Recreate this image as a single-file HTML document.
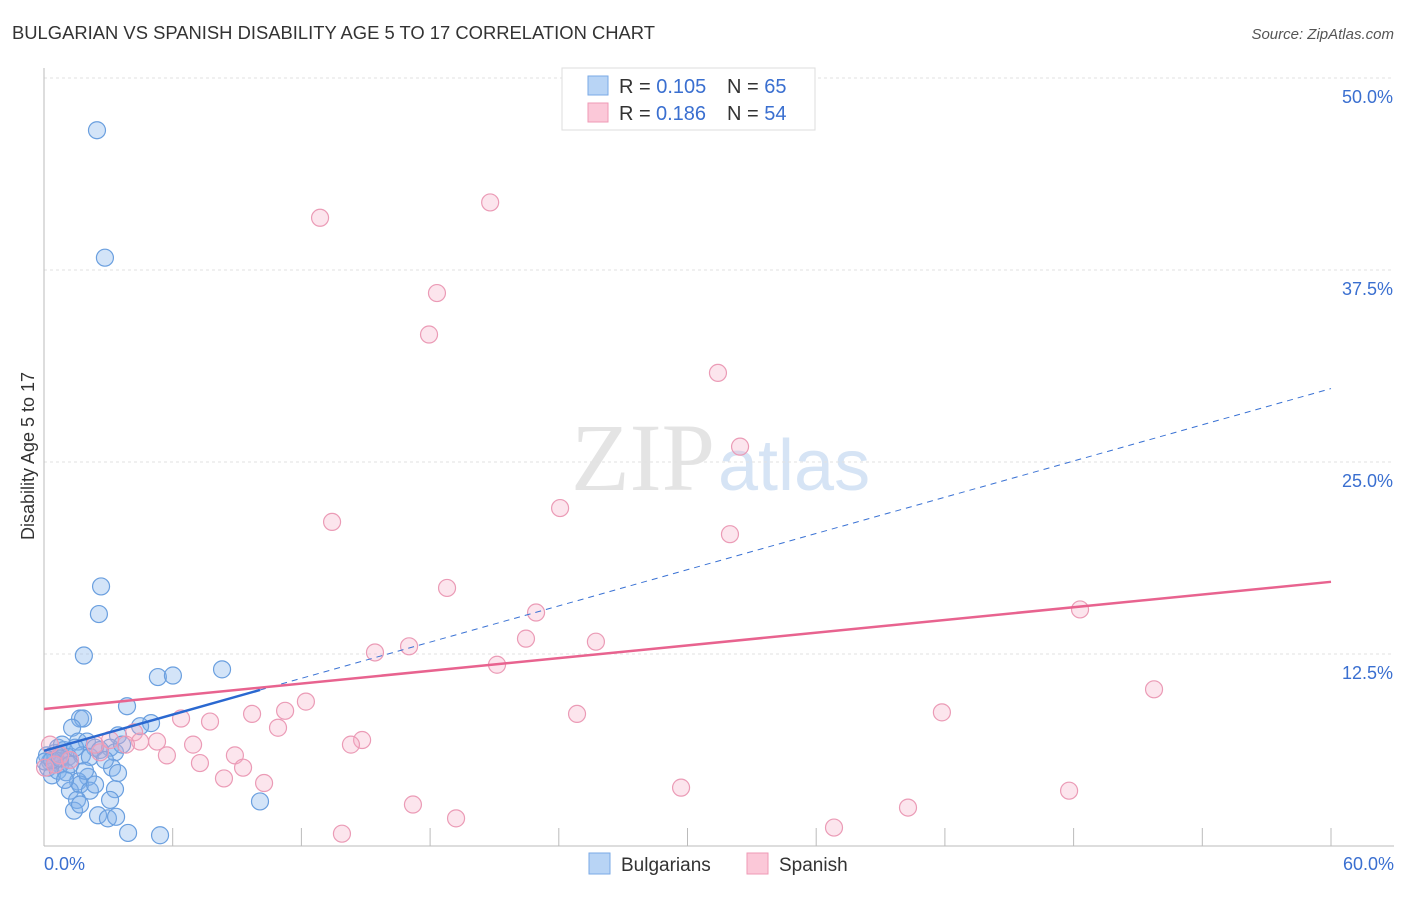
<!DOCTYPE html>
<html><head><meta charset="utf-8"><style>
body{margin:0;background:#fff;font-family:"Liberation Sans",sans-serif;}
</style></head><body>
<svg id="chart" width="1406" height="892" xmlns="http://www.w3.org/2000/svg">
<text x="12" y="39" font-size="18" fill="#333" textLength="643" lengthAdjust="spacingAndGlyphs">BULGARIAN VS SPANISH DISABILITY AGE 5 TO 17 CORRELATION CHART</text>
<text x="1394" y="39" font-size="15" fill="#555" font-style="italic" text-anchor="end">Source: ZipAtlas.com</text>
<text x="715" y="490" font-size="96" fill="#e4e4e4" text-anchor="end" font-family="Liberation Serif,serif">ZIP</text>
<text x="718" y="490" font-size="72" fill="#d6e4f5">atlas</text>
<g id="grid"></g>
<g id="axes"></g>
<g id="pts"></g>
<g id="trends"></g>
<text transform="translate(34,456) rotate(-90)" font-size="18" fill="#333" text-anchor="middle">Disability Age 5 to 17</text>
<text x="44" y="870" font-size="18" fill="#3a6fd0">0.0%</text>
<text x="1394" y="870" font-size="18" fill="#3a6fd0" text-anchor="end">60.0%</text>
<g>
<rect x="562" y="68" width="253" height="62" fill="#fff" stroke="#ddd"/>
<rect x="588" y="76" width="20" height="19" fill="#b8d4f5" stroke="#7aaae6"/>
<rect x="588" y="103" width="20" height="19" fill="#fbc8d8" stroke="#ef9ab6"/>
<text x="619" y="93" font-size="20" fill="#333">R = <tspan fill="#3a6fd0">0.105</tspan><tspan x="727">N = </tspan><tspan fill="#3a6fd0">65</tspan></text>
<text x="619" y="120" font-size="20" fill="#333">R = <tspan x="656" fill="#3a6fd0">0.186</tspan><tspan x="727">N = </tspan><tspan fill="#3a6fd0">54</tspan></text>
</g>
<g>
<rect x="589" y="853" width="21" height="21" fill="#b8d4f5" stroke="#7aaae6"/>
<text x="621" y="871" font-size="19" fill="#333">Bulgarians</text>
<rect x="747" y="853" width="21" height="21" fill="#fbc8d8" stroke="#ef9ab6"/>
<text x="779" y="871" font-size="19" fill="#333">Spanish</text>
</g>
</svg>
<script>
const yTicks=[12.5,25,37.5,50];
const yTickLabels=["12.5%","25.0%","37.5%","50.0%"];
const xTicks=[6,12,18,24,30,36,42,48,54,60];
const bulgX=[2.47,2.84,2.66,2.56,1.86,5.31,6.01,8.30,3.87,1.68,1.82,4.99,4.48,3.45,1.31,1.59,2.00,0.65,0.93,2.38,3.08,1.12,0.51,0.28,0.75,1.21,1.77,3.31,3.17,0.19,0.37,0.65,1.03,2.05,1.59,3.45,1.21,1.68,2.14,3.31,1.54,1.40,1.68,2.52,2.98,3.36,3.92,5.41,10.07,0.51,0.84,0.14,1.45,2.14,2.61,0.98,2.84,0.05,0.37,0.75,1.21,1.91,2.38,3.08,3.64];
const bulgY=[46.6,38.3,16.9,15.1,12.4,11.0,11.1,11.5,9.1,8.3,8.3,8.0,7.8,7.2,7.7,6.8,6.8,6.4,6.25,6.4,6.4,5.8,5.6,5.5,5.3,5.6,5.9,6.1,5.1,5.1,4.6,4.9,4.8,4.5,4.2,4.75,3.6,4.0,3.6,3.7,3.0,2.3,2.7,2.0,1.8,1.9,0.85,0.7,2.9,6.05,6.6,5.9,6.4,5.8,6.25,4.3,5.6,5.5,5.6,5.7,5.3,4.9,4.0,3.0,6.6];
const spanX=[20.8,12.87,18.32,17.95,31.42,32.45,13.43,24.06,31.98,18.79,22.94,48.3,17.02,22.47,25.73,15.43,21.12,51.75,12.21,11.24,9.70,6.39,7.74,24.85,41.86,10.91,4.20,4.48,5.27,14.83,14.31,6.95,3.82,8.90,5.73,7.27,9.28,8.39,10.26,29.70,47.79,17.20,40.28,19.21,13.89,36.83,0.28,0.75,2.61,1.21,2.38,3.08,0.05,0.51];
const spanY=[41.9,40.9,36.0,33.3,30.8,26.0,21.1,22.0,20.3,16.8,15.2,15.4,13.0,13.5,13.3,12.6,11.8,10.2,9.4,8.8,8.6,8.3,8.1,8.6,8.7,7.7,7.4,6.8,6.8,6.9,6.6,6.6,6.6,5.9,5.9,5.4,5.1,4.4,4.1,3.8,3.6,2.7,2.5,1.8,0.8,1.2,6.6,5.9,6.1,5.6,6.6,6.9,5.1,5.3];
const bulgTrend=[6.2,0.393]; // intercept, slope
const spanTrend=[8.92,0.138];
const X=v=>44+v*21.45, Y=v=>846-v*15.36;
const NS="http://www.w3.org/2000/svg";
function mk(tag,attrs,parent){const e=document.createElementNS(NS,tag);for(const k in attrs)e.setAttribute(k,attrs[k]);document.getElementById(parent).appendChild(e);return e;}
yTicks.forEach((t,i)=>{
 const l=mk('line',{x1:44,x2:1394,y1:Y(t),y2:Y(t),stroke:'#e2e2e2','stroke-dasharray':'3,3'},'grid');
 
 
 const tx=mk('text',{x:1393,y:Y(t)+25,'font-size':18,fill:'#3a6fd0','text-anchor':'end'},'grid');
 tx.textContent=yTickLabels[i];
 
 
});
const ay=mk('line',{x1:44,x2:44,y1:68,y2:846,stroke:'#bbb'},'axes');


const ax=mk('line',{x1:44,x2:1394,y1:846,y2:846,stroke:'#bbb'},'axes');


xTicks.forEach(t=>{
 const l=mk('line',{x1:X(t),x2:X(t),y1:828,y2:846,stroke:'#bbb'},'axes');
 
 
});
bulgX.forEach((v,i)=>{
 const c=mk('circle',{cx:X(v),cy:Y(bulgY[i]),r:8.5,fill:'rgba(130,178,235,0.35)',stroke:'#6a9fdf','stroke-width':1.2},'pts');
 
 
});
spanX.forEach((v,i)=>{
 const c=mk('circle',{cx:X(v),cy:Y(spanY[i]),r:8.5,fill:'rgba(245,170,195,0.3)',stroke:'#eb9bb6','stroke-width':1.2},'pts');
 
 
});
const bx=Math.max(...bulgX);
const bd=mk('line',{x1:X(bx),y1:Y(bulgTrend[0]+bulgTrend[1]*bx),x2:X(60),y2:Y(bulgTrend[0]+bulgTrend[1]*60),stroke:'#3a72d4','stroke-width':1,'stroke-dasharray':'6,5'},'trends');


const bs=mk('line',{x1:X(0),y1:Y(bulgTrend[0]),x2:X(bx),y2:Y(bulgTrend[0]+bulgTrend[1]*bx),stroke:'#2a68d0','stroke-width':2.5},'trends');


const sp=mk('line',{x1:X(0),y1:Y(spanTrend[0]),x2:X(60),y2:Y(spanTrend[0]+spanTrend[1]*60),stroke:'#e8638f','stroke-width':2.5},'trends');


</script>
</body></html>
